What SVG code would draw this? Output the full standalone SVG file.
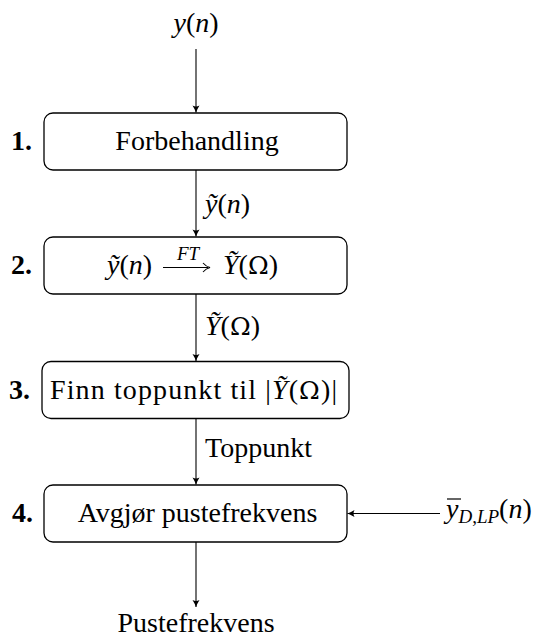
<svg xmlns="http://www.w3.org/2000/svg" width="558" height="637" viewBox="0 0 558 637">
<style>
.t { font-family: 'Liberation Serif', serif; font-size: 28px; fill: #000; }
.g { font-family: 'DejaVu Serif', serif; font-size: 25px; }
.i { font-style: italic; }
.b { font-weight: bold; }
.m { text-anchor: middle; }
.box { fill: #fff; stroke: #000; stroke-width: 1.3; }
.con { stroke: #000; stroke-width: 1.1; fill: none; }
</style>
<defs>
<marker id="ah" markerWidth="10" markerHeight="10" refX="8" refY="5" orient="auto" markerUnits="userSpaceOnUse">
<path d="M1,1.5 Q5,4 8,5 Q5,6 1,8.5 Q3,5 1,1.5 Z" fill="#000"/>
</marker>
</defs>
<g id="connectors">
<line class="con" x1="196" y1="49" x2="196" y2="112.5" marker-end="url(#ah)"/>
<line class="con" x1="196" y1="170" x2="196" y2="236.5" marker-end="url(#ah)"/>
<line class="con" x1="196" y1="294" x2="196" y2="361" marker-end="url(#ah)"/>
<line class="con" x1="196" y1="418.5" x2="196" y2="484.5" marker-end="url(#ah)"/>
<line class="con" x1="196" y1="542" x2="196" y2="607" marker-end="url(#ah)"/>
<line class="con" x1="440" y1="513.5" x2="347.5" y2="513.5" marker-end="url(#ah)"/>
<text class="t" x="205" y="213"><tspan class="i">ỹ</tspan>(<tspan class="i">n</tspan>)</text>
<text class="t" x="205" y="335"><tspan class="i">Ỹ</tspan>(<tspan class="g">Ω</tspan>)</text>
<text class="t" x="205" y="457">Toppunkt</text>
</g>
<g id="input">
<text class="t m" x="196" y="32"><tspan class="i">y</tspan>(<tspan class="i">n</tspan>)</text>
</g>
<g id="node1">
<rect class="box" x="44" y="113" width="303" height="57" rx="9"/>
<text class="t b" x="11" y="150">1.</text>
<text class="t m" x="197" y="150">Forbehandling</text>
</g>
<g id="node2">
<rect class="box" x="44" y="237" width="303" height="57" rx="9"/>
<text class="t b" x="11" y="274">2.</text>
<text class="t" x="107" y="274"><tspan class="i">ỹ</tspan>(<tspan class="i">n</tspan>)</text>
<text class="t i m" x="188" y="260" style="font-size:19px">FT</text>
<line class="con" x1="163" y1="267.5" x2="208" y2="267.5"/>
<path class="con" d="M203,263 Q206,266.5 210,267.5 Q206,268.5 203,272"/>
<text class="t" x="223" y="274"><tspan class="i">Ỹ</tspan>(<tspan class="g">Ω</tspan>)</text>
</g>
<g id="node3">
<rect class="box" x="42" y="361.5" width="307" height="57" rx="9"/>
<text class="t b" x="9" y="398.5">3.</text>
<text class="t" x="50" y="398.5" textLength="287">Finn toppunkt til |<tspan class="i">Ỹ</tspan>(<tspan class="g">Ω</tspan>)|</text>
</g>
<g id="node4">
<rect class="box" x="44" y="485" width="303" height="57" rx="9"/>
<text class="t b" x="12" y="522">4.</text>
<text class="t m" x="197.5" y="522">Avgjør pustefrekvens</text>
</g>
<g id="sideinput">
<line x1="447" y1="499" x2="461" y2="499" stroke="#000" stroke-width="1.2"/>
<text class="t" x="446" y="518"><tspan class="i">y</tspan><tspan class="i" style="font-size:19px" dy="5">D</tspan><tspan style="font-size:19px">,</tspan><tspan class="i" style="font-size:19px">LP</tspan><tspan dy="-5">(</tspan><tspan class="i">n</tspan>)</text>
</g>
<g id="output">
<text class="t m" x="196" y="632">Pustefrekvens</text>
</g>
</svg>
